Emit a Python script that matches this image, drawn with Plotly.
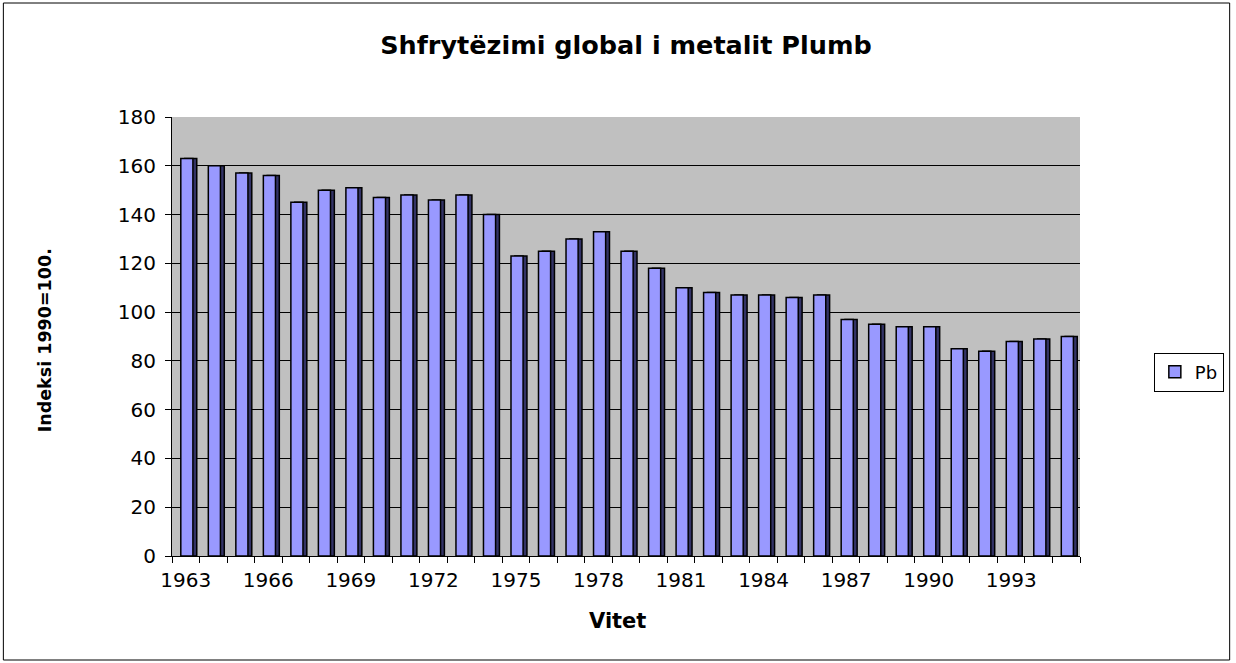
import plotly.graph_objects as go

years = list(range(1963, 1996))
values = [163, 160, 157, 156, 145, 150, 151, 147, 148, 146, 148, 140, 123, 125, 130, 133,
          125, 118, 110, 108, 107, 107, 106, 107, 97, 95, 94, 94, 85, 84, 88, 89, 90]
label_years = list(range(1963, 1996, 3))
series_name = "Pb"
title_text = "Shfrytëzimi global i metalit Plumb"
y_title = "Indeksi 1990=100."
x_title = "Vitet"

W, H = 1236, 663
L, R, T, B = 172, 1082, 117, 556
pw, ph = R - L, B - T

def px(xp):
    return (xp - L) / pw

def py(yp):
    return (B - yp) / ph

font = "DejaVu Sans, sans-serif"

fig = go.Figure()
# darker side face for a 3D look
fig.add_trace(go.Bar(
    x=years, y=values, name=series_name, width=0.44, offset=-0.04, showlegend=False,
    marker=dict(color="#333366", line=dict(color="black", width=1.5)), hoverinfo="skip",
))
fig.add_trace(go.Bar(
    x=years, y=values, name=series_name, width=0.44, offset=-0.18,
    marker=dict(color="#9999FF", line=dict(color="black", width=1.5)),
))

fig.update_layout(
    width=W, height=H,
    margin=dict(l=L, r=W - R, t=T, b=H - B),
    paper_bgcolor="white", plot_bgcolor="#C0C0C0",
    font=dict(family=font, size=20, color="black"),
    title=dict(text="<b>" + title_text + "</b>", x=px(627), xref="paper",
               y=1 - 45 / H, yanchor="middle", xanchor="center",
               font=dict(size=25.5, family=font)),
    showlegend=True,
    legend=dict(x=px(1156), y=py(372), xanchor="left", yanchor="middle",
                bordercolor="black", borderwidth=1, bgcolor="white",
                font=dict(size=18), itemwidth=30),
    barmode="overlay",
)
fig.update_xaxes(
    range=[1962.5, 1995.5], tickvals=label_years, ticktext=[str(y) for y in label_years],
    ticks="", showgrid=False, showline=True, linecolor="black", linewidth=1,
    minor=dict(tick0=1962.5, dtick=1, ticks="outside", ticklen=6, tickcolor="black", showgrid=False),
    tickfont=dict(size=20), zeroline=False, ticklabelstandoff=6,
)
fig.update_yaxes(
    range=[0, 180], dtick=20, ticks="outside", ticklen=6, tickcolor="black",
    showgrid=True, gridcolor="black", gridwidth=1,
    showline=True, linecolor="black", linewidth=1, zeroline=False,
    tickfont=dict(size=20), ticklabelstandoff=5,
)
fig.add_annotation(text="<b>" + y_title + "</b>", x=px(45), y=py(340), xref="paper", yref="paper",
                   xanchor="center", yanchor="middle",
                   textangle=-90, showarrow=False, font=dict(size=17.5, family=font))
fig.add_annotation(text="<b>" + x_title + "</b>", x=px(618), y=py(621), xref="paper", yref="paper",
                   xanchor="center", yanchor="middle",
                   showarrow=False, font=dict(size=21, family=font))
fig.add_shape(type="rect", xref="paper", yref="paper",
              x0=px(3), x1=px(1232), y0=py(660), y1=py(3),
              line=dict(color="black", width=1), layer="below")

fig.write_html("out.html", config={"displayModeBar": False},
               post_script="document.body.style.margin='0';")
